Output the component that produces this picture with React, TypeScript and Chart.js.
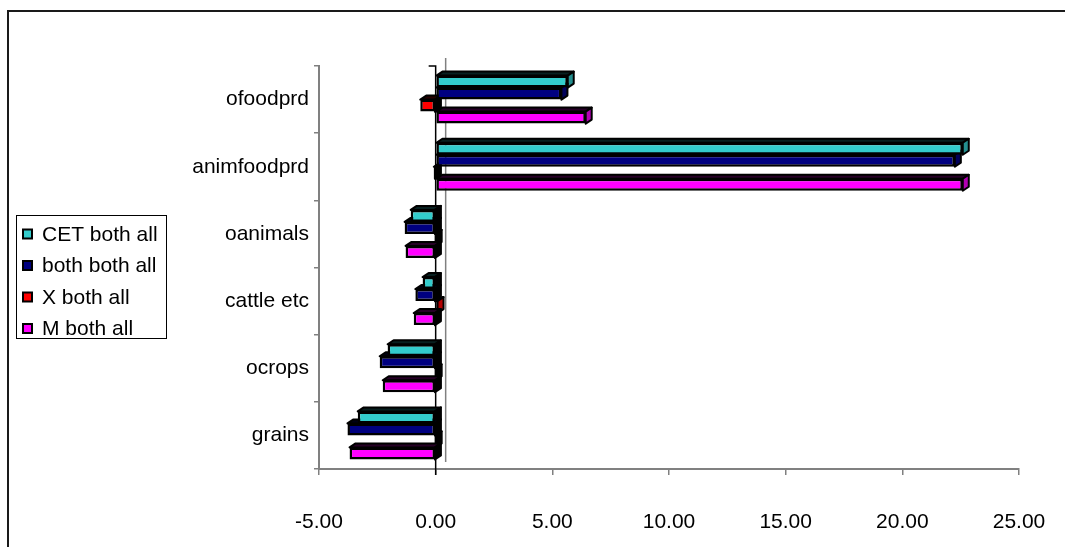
import React, { useEffect, useRef } from "react";
import { Chart, registerables } from "chart.js";

Chart.register(...registerables);

// Categories listed top to bottom as they appear on the vertical axis
const categories = ["ofoodprd", "animfoodprd", "oanimals", "cattle etc", "ocrops", "grains"];
const seriesNames = ["CET both all", "both both all", "X both all", "M both all"];

const cetBothAll = [5.66, 22.59, -1.07, -0.56, -2.06, -3.34];
const bothBothAll = [5.39, 22.25, -1.33, -0.87, -2.4, -3.78];
const xBothAll = [-0.66, -0.08, 0.0, 0.08, 0.0, 0.0];
const mBothAll = [6.43, 22.59, -1.29, -0.94, -2.27, -3.69];

const xTickValues = [-5, 0, 5, 10, 15, 20, 25];

const palette = ["#33CCCC", "#000080", "#FF0000", "#FF00FF"];
const FONT = '"Liberation Sans", Arial, sans-serif';

function darken(hex: string, f: number) {
  const n = parseInt(hex.slice(1), 16);
  const r = Math.round(((n >> 16) & 255) * f);
  const g = Math.round(((n >> 8) & 255) * f);
  const b = Math.round((n & 255) * f);
  return `rgb(${r},${g},${b})`;
}

// Extruded top and end faces behind every bar, plus the wall zero lines
const depthPlugin = {
  id: "barDepth",
  beforeDatasetsDraw(chart: any) {
    const { ctx, chartArea } = chart;
    const xs = chart.scales.x;
    const zero = xs.getPixelForValue(0);
    const dx = 6;
    const dy = -4;
    ctx.save();
    // zero line on the back wall
    ctx.strokeStyle = "#808080";
    ctx.lineWidth = 1.5;
    ctx.beginPath();
    ctx.moveTo(zero + 10, chartArea.top - 8);
    ctx.lineTo(zero + 10, chartArea.bottom - 7);
    ctx.stroke();
    // zero line at the front
    ctx.strokeStyle = "#000";
    ctx.lineWidth = 1.5;
    ctx.beginPath();
    ctx.moveTo(zero - 7, chartArea.top);
    ctx.lineTo(zero, chartArea.top);
    ctx.lineTo(zero, chartArea.bottom + 6);
    ctx.stroke();

    ctx.lineJoin = "round";
    chart.data.datasets.forEach((_ds: any, di: number) => {
      const meta = chart.getDatasetMeta(di);
      const topShade = darken(palette[di], 0.15);
      const endShade = darken(palette[di], 0.7);
      meta.data.forEach((bar: any) => {
        const { x, y, base, height } = bar.getProps(["x", "y", "base", "height"], true);
        const left = Math.min(x, base);
        const right = Math.max(x, base);
        const top = y - height / 2;
        const bottom = y + height / 2;
        ctx.strokeStyle = "#000";
        ctx.lineWidth = 2;
        // top face
        ctx.fillStyle = topShade;
        ctx.beginPath();
        ctx.moveTo(left, top);
        ctx.lineTo(right, top);
        ctx.lineTo(right + dx, top + dy);
        ctx.lineTo(left + dx, top + dy);
        ctx.closePath();
        ctx.fill();
        ctx.stroke();
        // right end face
        ctx.fillStyle = x - base > 0.5 ? endShade : "#000";
        ctx.beginPath();
        ctx.moveTo(right, top);
        ctx.lineTo(right + dx, top + dy);
        ctx.lineTo(right + dx, bottom + dy);
        ctx.lineTo(right, bottom);
        ctx.closePath();
        ctx.fill();
        ctx.stroke();
      });
    });
    ctx.restore();
  },
};

// Outer frame and the boxed legend on the left
const framePlugin = {
  id: "frameAndLegend",
  afterDraw(chart: any) {
    const { ctx } = chart;
    ctx.save();
    ctx.strokeStyle = "#1a1a1a";
    ctx.lineWidth = 2;
    ctx.strokeRect(8, 11, 1200, 800);

    const boxX = 16.5;
    const boxY = 215.5;
    const boxW = 150;
    const boxH = 123;
    ctx.fillStyle = "#fff";
    ctx.fillRect(boxX, boxY, boxW, boxH);
    ctx.strokeStyle = "#000";
    ctx.lineWidth = 1;
    ctx.strokeRect(boxX, boxY, boxW, boxH);

    ctx.font = `21px ${FONT}`;
    ctx.textBaseline = "middle";
    ctx.textAlign = "left";
    seriesNames.forEach((name, i) => {
      const cy = 234 + i * 31.5;
      ctx.fillStyle = palette[i];
      ctx.fillRect(23, cy - 4.5, 9, 9);
      ctx.strokeStyle = "#000";
      ctx.lineWidth = 2;
      ctx.strokeRect(23, cy - 4.5, 9, 9);
      ctx.fillStyle = "#000";
      ctx.fillText(name, 42, cy + 1);
    });
    ctx.restore();
  },
};

export default function App() {
  const canvasRef = useRef<HTMLCanvasElement>(null);

  useEffect(() => {
    const seriesValues = [cetBothAll, bothBothAll, xBothAll, mBothAll];
    const chart = new Chart(canvasRef.current as HTMLCanvasElement, {
      type: "bar",
      data: {
        labels: categories,
        datasets: seriesNames.map((name, i) => ({
          label: name,
          data: seriesValues[i],
          backgroundColor: palette[i],
          borderColor: "#000",
          borderWidth: 2.5,
          borderSkipped: false,
          categoryPercentage: 0.715,
          barPercentage: 1,
        })),
      },
      options: {
        indexAxis: "y",
        responsive: false,
        animation: false,
        layout: { padding: { left: 0, right: 46, top: 66, bottom: 0 } },
        plugins: { legend: { display: false }, tooltip: { enabled: false } },
        scales: {
          x: {
            type: "linear",
            position: "bottom",
            min: -5,
            max: 25,
            afterBuildTicks: (scale: any) => {
              scale.ticks = xTickValues.map((v) => ({ value: v }));
            },
            afterFit: (scale: any) => {
              scale.height = 78;
              scale.paddingLeft = 0;
              scale.paddingRight = 0;
            },
            grid: { drawOnChartArea: false, tickLength: 6, color: "#808080", lineWidth: 1.5 },
            border: { color: "#808080", width: 2 },
            ticks: {
              padding: 35,
              color: "#000",
              font: { family: FONT, size: 21 },
              maxRotation: 0,
              callback: (v: any) => Number(v).toFixed(2),
            },
          },
          y: {
            type: "category",
            afterFit: (scale: any) => {
              scale.width = 319;
            },
            grid: { drawOnChartArea: false, tickLength: 5, color: "#808080", lineWidth: 1.5, offset: true },
            border: { color: "#808080", width: 2 },
            ticks: { padding: 5, color: "#000", font: { family: FONT, size: 21 } },
          },
        },
      },
      plugins: [depthPlugin, framePlugin],
    } as any);
    return () => chart.destroy();
  }, []);

  return (
    <div style={{ position: "fixed", left: 0, top: 0, width: 1065, height: 547, background: "#fff" }}>
      <canvas ref={canvasRef} width={1065} height={547} />
    </div>
  );
}
